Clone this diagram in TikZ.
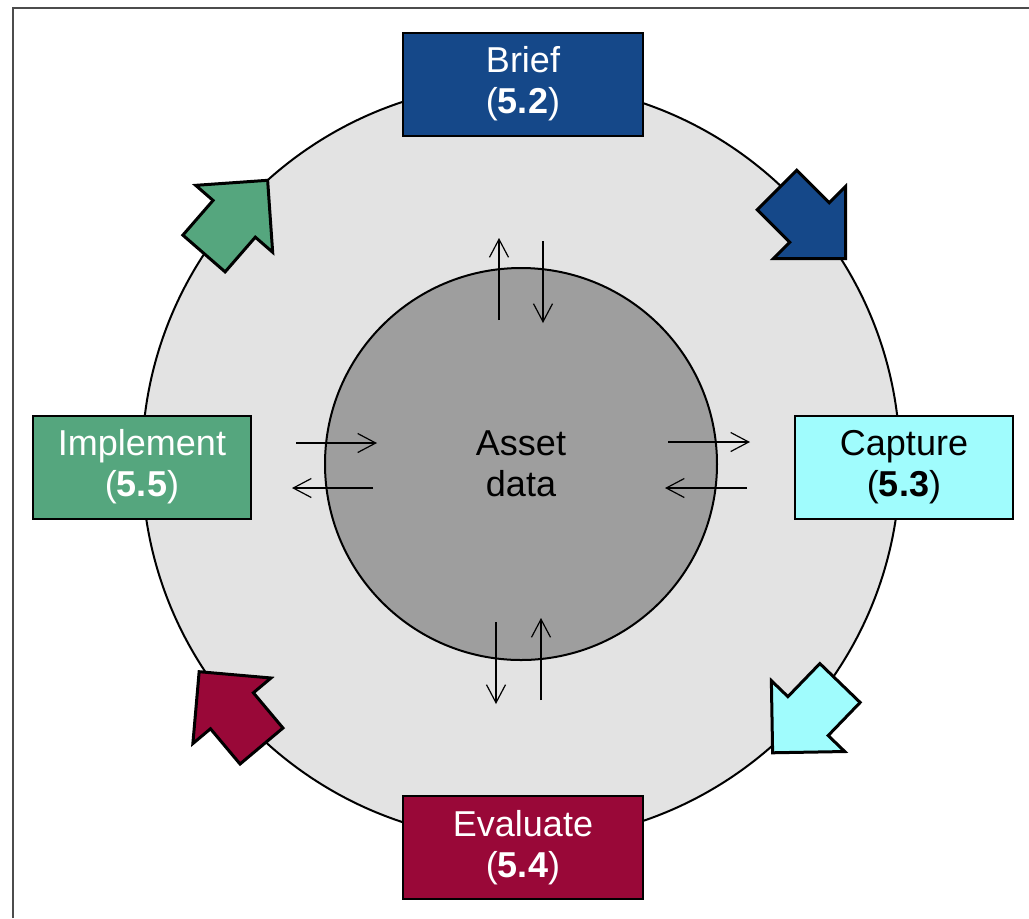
\documentclass[tikz,border=0pt]{standalone}
\usepackage{fontspec}
\setmainfont{Liberation Sans}
\usetikzlibrary{arrows.meta}

\definecolor{briefblue}{HTML}{154889}
\definecolor{capturecyan}{HTML}{A0FCFD}
\definecolor{evalred}{HTML}{990838}
\definecolor{implgreen}{HTML}{55A67E}
\definecolor{ringgray}{HTML}{E3E3E3}
\definecolor{coregray}{HTML}{9E9E9E}

\tikzset{
  stagebox/.style={draw=black, line width=1pt, align=center, inner sep=0pt,
    minimum height=51.5pt, font=\fontsize{18}{20.5}\selectfont},
  flowarrow/.pic={
    \path[pic actions] (0,-28) -- (46,-28) -- (46,-51) -- (97,0)
      -- (46,51) -- (46,28) -- (0,28) -- cycle;
  },
  blockflow/.style={draw=black, line width=1.5pt, line join=miter},
  dataflow/.style={line width=0.6pt, -{Straight Barb[length=9pt,width=9.5pt]}}
}

\begin{document}
\begin{tikzpicture}[x=0.5pt, y=-0.5pt]
    \useasboundingbox (0,0) rectangle (1029,918);
    % page frame
    \draw[black!70, line width=0.6pt] (13,918) -- (13,8) -- (1029,8);

    % rings
    \node (ring) [circle, draw=black, line width=1pt, fill=ringgray,
      minimum size=379pt, inner sep=0pt] at (521,462) {};
    \node (core) [circle, draw=black, line width=1pt, fill=coregray,
      minimum size=196pt, inner sep=0pt, align=center,
      font=\fontsize{18}{20.5}\selectfont] at (521,464) {Asset\\data};

    % block arrows round the ring
    \pic[blockflow, fill=implgreen, rotate=49] at (204,253.5) {flowarrow};
    \pic[blockflow, fill=briefblue, rotate=-45] at (777,190) {flowarrow};
    \pic[blockflow, fill=capturecyan, rotate=-134] at (840,683) {flowarrow};
    \pic[blockflow, fill=evalred, rotate=130] at (261.5,746) {flowarrow};

    % stages
    \node (brief) [stagebox, fill=briefblue, text=white, minimum width=120pt]
      at (523,84) {Brief\\(\textbf{5.2})};
    \node (capture) [stagebox, fill=capturecyan, text=black, minimum width=109pt]
      at (904,467.5) {Capture\\(\textbf{5.3})};
    \node (evaluate) [stagebox, fill=evalred, text=white, minimum width=120pt]
      at (523,847.5) {Evaluate\\(\textbf{5.4})};
    \node (implement) [stagebox, fill=implgreen, text=white, minimum width=109pt]
      at (142,467) {Implement\\(\textbf{5.5})};

    % data exchange with the core
    \foreach \sx/\sy/\ex/\ey [count=\i] in {499/320/499/238, 543/241/543/323,
        296/443/377/443, 373/488/292/488, 668/442/750/442, 747/488/665/488,
        496/622/496/704, 541/700/541/618} {
      \coordinate (from\i) at (\sx,\sy);
      \coordinate (to\i) at (\ex,\ey);
      \draw[dataflow] (from\i) -- (to\i);
    }
\end{tikzpicture}
\end{document}
